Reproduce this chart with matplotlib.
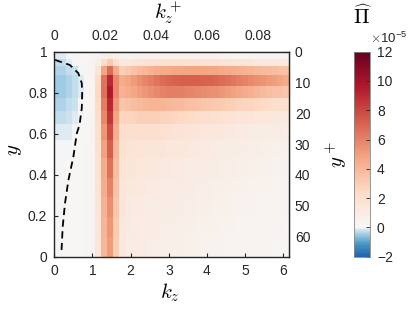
import matplotlib
matplotlib.use("Agg")
import matplotlib.pyplot as plt
import numpy as np
from matplotlib.colors import LinearSegmentedColormap, Normalize

plt.rcParams['font.family'] = ['Liberation Sans', 'DejaVu Sans']
plt.rcParams['mathtext.fontset'] = 'cm'

# friction Reynolds number linking outer and wall units
re_tau = 66.6

# grid: 40 spanwise wavenumber bins, 14 wall-normal rows (top = wall)
kz_max = 6.157
n_kz = 40
y_edges = [1.0, 0.966, 0.932, 0.888, 0.835, 0.776, 0.713, 0.645, 0.569,
           0.481, 0.384, 0.291, 0.194, 0.096, 0.0]

# production spectrum, units of 1e-5, rows from wall (y=1) to centre (y=0)
pi_hat = [
    [-0.1, -0.1, 0.0, 0.0, 0.1, 0.1, 0.2, 0.3, 0.7, 1.0, 0.7, 0.5, 0.5, 0.5, 0.5, 0.5, 0.5, 0.5, 0.5, 0.5,
     0.5, 0.5, 0.5, 0.5, 0.5, 0.5, 0.5, 0.5, 0.4, 0.4, 0.4, 0.4, 0.4, 0.4, 0.4, 0.3, 0.3, 0.3, 0.3, 0.3],
    [-0.3, -0.3, -0.1, 0.0, 0.1, 0.2, 0.3, 0.8, 2.2, 3.2, 2.0, 1.3, 1.4, 1.5, 1.6, 1.7, 1.8, 1.8, 1.9, 1.9,
     1.9, 1.9, 1.9, 1.9, 1.9, 1.8, 1.8, 1.8, 1.7, 1.7, 1.6, 1.6, 1.5, 1.5, 1.4, 1.4, 1.3, 1.3, 1.2, 1.2],
    [-0.4, -0.4, -0.3, -0.2, 0.0, 0.2, 0.4, 1.6, 4.8, 6.8, 4.5, 3.0, 3.2, 3.5, 3.8, 4.0, 4.2, 4.4, 4.5, 4.6,
     4.7, 4.7, 4.8, 4.8, 4.8, 4.8, 4.7, 4.7, 4.6, 4.5, 4.4, 4.3, 4.2, 4.1, 4.0, 3.9, 3.8, 3.7, 3.6, 3.5],
    [-0.5, -0.5, -0.4, -0.3, -0.1, 0.1, 0.3, 2.4, 6.5, 9.0, 5.8, 4.5, 4.8, 5.2, 5.6, 5.9, 6.2, 6.5, 6.8, 7.0,
     7.1, 7.2, 7.2, 7.2, 7.2, 7.1, 7.1, 7.0, 6.8, 6.6, 6.4, 6.2, 6.0, 5.8, 5.6, 5.4, 5.2, 5.0, 4.8, 4.6],
    [-0.5, -0.5, -0.4, -0.3, -0.1, 0.1, 0.3, 2.5, 6.6, 9.6, 5.8, 4.2, 4.4, 4.7, 5.0, 5.3, 5.6, 5.8, 6.0, 6.1,
     6.1, 6.1, 6.0, 5.9, 5.8, 5.7, 5.6, 5.5, 5.3, 5.1, 4.9, 4.7, 4.5, 4.3, 4.1, 3.9, 3.7, 3.6, 3.5, 3.4],
    [-0.4, -0.4, -0.3, -0.2, 0.0, 0.1, 0.3, 2.4, 6.2, 9.1, 5.3, 3.4, 3.5, 3.7, 3.9, 4.0, 4.1, 4.1, 4.1, 4.0,
     3.9, 3.8, 3.7, 3.6, 3.5, 3.4, 3.3, 3.2, 3.1, 3.0, 2.9, 2.8, 2.7, 2.6, 2.5, 2.4, 2.3, 2.2, 2.1, 2.0],
    [-0.3, -0.3, -0.2, -0.1, 0.0, 0.1, 0.3, 2.2, 5.8, 8.5, 4.8, 2.7, 2.7, 2.8, 2.9, 2.9, 2.9, 2.9, 2.8, 2.7,
     2.6, 2.5, 2.4, 2.3, 2.2, 2.1, 2.0, 1.9, 1.8, 1.8, 1.7, 1.6, 1.5, 1.5, 1.4, 1.4, 1.3, 1.3, 1.2, 1.2],
    [-0.1, -0.1, -0.1, 0.0, 0.1, 0.1, 0.3, 2.0, 5.3, 7.8, 4.3, 2.2, 2.1, 2.1, 2.1, 2.1, 2.0, 2.0, 1.9, 1.8,
     1.7, 1.7, 1.6, 1.5, 1.5, 1.4, 1.4, 1.3, 1.3, 1.2, 1.2, 1.1, 1.1, 1.0, 1.0, 1.0, 0.9, 0.9, 0.9, 0.8],
    [0.0, 0.0, 0.0, 0.1, 0.1, 0.2, 0.3, 1.9, 4.9, 7.2, 4.0, 1.9, 1.7, 1.7, 1.7, 1.6, 1.6, 1.5, 1.5, 1.4,
     1.4, 1.3, 1.3, 1.2, 1.2, 1.1, 1.1, 1.0, 1.0, 0.9, 0.9, 0.9, 0.8, 0.8, 0.8, 0.7, 0.7, 0.7, 0.6, 0.6],
    [0.0, 0.0, 0.1, 0.1, 0.1, 0.2, 0.3, 1.8, 4.6, 6.6, 3.7, 1.7, 1.5, 1.5, 1.4, 1.4, 1.3, 1.3, 1.2, 1.2,
     1.1, 1.1, 1.0, 1.0, 1.0, 0.9, 0.9, 0.9, 0.8, 0.8, 0.8, 0.7, 0.7, 0.7, 0.6, 0.6, 0.6, 0.5, 0.5, 0.5],
    [0.0, 0.0, 0.1, 0.1, 0.1, 0.2, 0.3, 1.7, 4.4, 6.0, 3.5, 1.6, 1.3, 1.3, 1.2, 1.2, 1.1, 1.1, 1.0, 1.0,
     1.0, 0.9, 0.9, 0.9, 0.8, 0.8, 0.8, 0.7, 0.7, 0.7, 0.6, 0.6, 0.6, 0.5, 0.5, 0.5, 0.5, 0.4, 0.4, 0.4],
    [0.0, 0.0, 0.1, 0.1, 0.1, 0.2, 0.3, 1.6, 4.2, 5.6, 3.3, 1.5, 1.2, 1.1, 1.1, 1.0, 1.0, 1.0, 0.9, 0.9,
     0.9, 0.8, 0.8, 0.8, 0.7, 0.7, 0.7, 0.6, 0.6, 0.6, 0.5, 0.5, 0.5, 0.5, 0.4, 0.4, 0.4, 0.4, 0.3, 0.3],
    [0.0, 0.0, 0.1, 0.1, 0.1, 0.2, 0.3, 1.5, 4.1, 5.3, 3.1, 1.4, 1.1, 1.0, 1.0, 0.9, 0.9, 0.9, 0.8, 0.8,
     0.8, 0.7, 0.7, 0.7, 0.6, 0.6, 0.6, 0.6, 0.5, 0.5, 0.5, 0.4, 0.4, 0.4, 0.4, 0.3, 0.3, 0.3, 0.3, 0.2],
    [0.0, 0.0, 0.1, 0.1, 0.1, 0.2, 0.3, 1.5, 4.0, 5.1, 3.0, 1.3, 1.0, 1.0, 0.9, 0.9, 0.8, 0.8, 0.8, 0.7,
     0.7, 0.7, 0.6, 0.6, 0.6, 0.5, 0.5, 0.5, 0.5, 0.4, 0.4, 0.4, 0.4, 0.3, 0.3, 0.3, 0.3, 0.2, 0.2, 0.2],
]

# dashed contour
contour_kz = [0.02, 0.41, 0.63, 0.72, 0.73, 0.72, 0.66, 0.59, 0.50, 0.37, 0.28, 0.22, 0.19]
contour_y = [0.96, 0.935, 0.895, 0.846, 0.797, 0.724, 0.642, 0.602, 0.488, 0.374, 0.26, 0.146, 0.033]

# colour scale nodes (value in 1e-5, colour)
cmap_vals = [-2, -1.2, -0.6, -0.2, 0, 2.4, 4.8, 7.2, 9.6, 12]
cmap_cols = ['#2166ac', '#4393c3', '#92c5de', '#d1e5f0', '#f7f7f7',
             '#fddbc7', '#f4a582', '#d6604d', '#b2182b', '#67001f']
vmin, vmax = -2, 12
cmap = LinearSegmentedColormap.from_list(
    'rdbu_shift', [((v - vmin) / (vmax - vmin), c) for v, c in zip(cmap_vals, cmap_cols)])

kz_edges = np.linspace(0, kz_max, n_kz + 1)
Z = np.array(pi_hat)

fig = plt.figure(figsize=(4.15, 3.12), dpi=100)
W, H = 415, 312
ax = fig.add_axes([54.3 / W, 1 - 256.7 / H, 235 / W, 205 / H])
cax = fig.add_axes([354 / W, 1 - 256.7 / H, 16 / W, 205 / H])

mesh = ax.pcolormesh(kz_edges, y_edges, Z, cmap=cmap,
                     norm=Normalize(vmin, vmax), shading='flat')
ax.plot(contour_kz, contour_y, color='k', ls='--', lw=1.3, dashes=(4, 2.5))

ax.set_xlim(0, kz_max)
ax.set_ylim(0, 1)
ax.set_xticks([0, 1, 2, 3, 4, 5, 6])
ax.set_yticks([0, 0.2, 0.4, 0.6, 0.8, 1])
ax.set_yticklabels(['0', '0.2', '0.4', '0.6', '0.8', '1'])
tick_kw = dict(direction='in', length=3, width=0.8, labelsize=10,
               colors='#262626', labelcolor='#262626')
ax.tick_params(pad=5, **tick_kw)
for s in ax.spines.values():
    s.set_color('#262626')
    s.set_linewidth(1.0)

top = ax.secondary_xaxis('top', functions=(lambda k: k / re_tau, lambda kp: kp * re_tau))
top.set_xticks([0, 0.02, 0.04, 0.06, 0.08])
top.set_xticklabels(['0', '0.02', '0.04', '0.06', '0.08'])
top.tick_params(pad=6, **tick_kw)

right = ax.secondary_yaxis('right', functions=(lambda y: (1 - y) * re_tau,
                                               lambda yp: 1 - yp / re_tau))
right.set_yticks([0, 10, 20, 30, 40, 50, 60])
right.tick_params(pad=4, **tick_kw)

cb = fig.colorbar(mesh, cax=cax)
cb.set_ticks([-2, 0, 2, 4, 6, 8, 10, 12])
cb.ax.tick_params(direction='in', length=3, width=0.6, labelsize=10, pad=5,
                  colors='#262626', labelcolor='#262626')
cb.outline.set_linewidth(0.6)
cb.outline.set_edgecolor('#888888')
cax.text(1.0, 1.03, r'$\times\mathregular{10^{-5}}$', transform=cax.transAxes,
         ha='left', va='bottom', fontsize=9.5, color='#262626')

fig.text(14 / W, 1 - 150 / H, '$y$', rotation=90, ha='center', va='center', fontsize=15)
fig.text(170 / W, 1 - 293 / H, '$k_z$', ha='center', va='center', fontsize=15)
fig.text(168 / W, 1 - 13 / H, '$k_z^+$', ha='center', va='center', fontsize=15)
fig.text(336 / W, 1 - 155 / H, '$y^+$', rotation=90, ha='center', va='center', fontsize=15)
fig.text(363 / W, 1 - 16 / H, r'$\widehat{\Pi}$', ha='center', va='center', fontsize=15)

fig.savefig('out.png', dpi=100)
